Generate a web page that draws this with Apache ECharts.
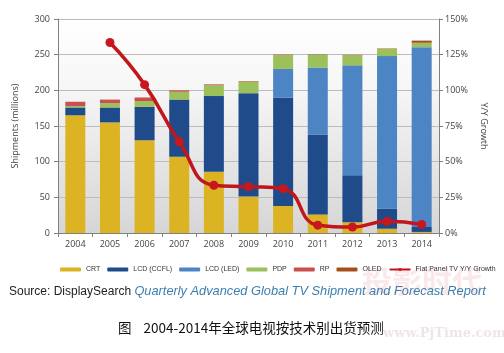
<!DOCTYPE html>
<html><head><meta charset="utf-8">
<script src="https://cdn.jsdelivr.net/npm/echarts@6/dist/echarts.min.js"></script>
<style>html,body{margin:0;padding:0;background:#fff}#c{width:504px;height:353px}</style>
</head><body><div id="c"></div>
<script>
const years = ['2004','2005','2006','2007','2008','2009','2010','2011','2012','2013','2014'];
const crt  = [165,155,130,107,86,51,38,26,15,6,1.5];
const ccfl = [11,21,47,80,106,145,152,112,66,28,7];
const led  = [0,0,0,0,0,0,40,94,154,214,252];
const pdp  = [2,6,8,11,15,16,19,18,14,10,6];
const rp   = [6,5,5,2,1,0.5,0.5,0.3,0.3,0.2,0.2];
const oled = [0,0,0,0,0.5,0.5,0.5,0.3,0.5,0.5,3];
const growth = [null,133.5,104,64,33.5,32.5,31,5.5,4.2,8.2,6];
const leftTicks = [0,50,100,150,200,250,300];
const rightTicks = [0,25,50,75,100,125,150];

const chart = echarts.init(document.getElementById('c'));
const font = 'Open Sans, Liberation Sans, sans-serif';
function bar(name, data, color){
  return {name, type:'bar', stack:'s', data, barWidth:20, itemStyle:{color}, z:2};
}
chart.setOption({
  animation:false,
  grid:{left:58,right:65,top:19,bottom:120,show:true,borderWidth:0,
    backgroundColor:new echarts.graphic.LinearGradient(0,0,0,1,[
      {offset:0,color:'#ffffff'},{offset:0.3,color:'#f7f7f7'},{offset:1,color:'#d6d6d6'}])},
  legend:{left:60,top:266,width:444,itemWidth:21,itemHeight:4,itemGap:7,padding:0,
    textStyle:{fontSize:7,color:'#333',fontFamily:'Liberation Sans, Arial'},
    data:['CRT','LCD (CCFL)','LCD (LED)','PDP','RP','OLED','Flat Panel TV Y/Y Growth']},
  xAxis:{type:'category',data:years,
    axisLine:{lineStyle:{color:'#808080'}},
    axisTick:{show:true,alignWithLabel:false,length:4,lineStyle:{color:'#808080'}},
    axisLabel:{fontSize:9,color:'#444',fontFamily:font,margin:7}},
  yAxis:[
    {type:'value',min:0,max:300,interval:50,name:'Shipments (millions)',nameLocation:'middle',nameGap:38,
     nameTextStyle:{fontSize:9,color:'#444',fontFamily:font},
     axisLine:{show:true,lineStyle:{color:'#808080'}},axisTick:{show:true,length:4,lineStyle:{color:'#808080'}},
     axisLabel:{fontSize:9,color:'#444',fontFamily:font,margin:8,
       formatter:v=>leftTicks.includes(v)?String(v):''},
     splitLine:{lineStyle:{color:'#bcbcbc'}}},
    {type:'value',min:0,max:150,interval:25,name:'Y/Y Growth',nameLocation:'middle',nameGap:38,nameRotate:-90,
     nameTextStyle:{fontSize:9,color:'#444',fontFamily:font},
     axisLine:{show:true,lineStyle:{color:'#808080'}},axisTick:{show:true,length:4,lineStyle:{color:'#808080'}},
     axisLabel:{fontSize:9,color:'#444',fontFamily:font,margin:6,
       formatter:v=>rightTicks.includes(v)?v+'%':''},
     splitLine:{show:false}}
  ],
  series:[
    bar('CRT',crt,'#dcb322'),
    bar('LCD (CCFL)',ccfl,'#1f4b8a'),
    bar('LCD (LED)',led,'#4d84c4'),
    bar('PDP',pdp,'#9cc05a'),
    bar('RP',rp,'#c9504e'),
    bar('OLED',oled,'#a5501a'),
    {name:'Flat Panel TV Y/Y Growth',type:'line',yAxisIndex:1,data:growth,smooth:0.5,
     symbol:'circle',symbolSize:9,lineStyle:{width:3.5,color:'#c0161c'},itemStyle:{color:'#c8171e'},z:5}
  ],
  graphic:[
    {type:'text',left:362,top:266,z:0,style:{text:'投影时代',font:'bold 30px "Noto Sans CJK SC"',fill:'rgba(230,150,160,0.22)'}},
    {type:'text',left:383,top:327,z:0,style:{text:'www.PjTime.com',font:'bold 13px "DejaVu Serif"',fill:'rgba(200,170,175,0.3)'}},
    {type:'text',left:9,top:285,style:{rich:{
      a:{fontSize:12,fontFamily:'Liberation Sans, Arial',fill:'#222',color:'#222'},
      b:{fontSize:12.8,fontFamily:'Liberation Sans, Arial',fontStyle:'italic',fill:'#3c7fae',color:'#3c7fae'}},
      text:'{a|Source: DisplaySearch }{b|Quarterly Advanced Global TV Shipment and Forecast Report}'}},
    {type:'text',left:118,top:321,style:{text:'图    2004-2014年全球电视按技术别出货预测',
      font:'13.5px "Noto Sans CJK SC", "DejaVu Sans Mono"',fill:'#111'}}
  ]
});
</script></body></html>
